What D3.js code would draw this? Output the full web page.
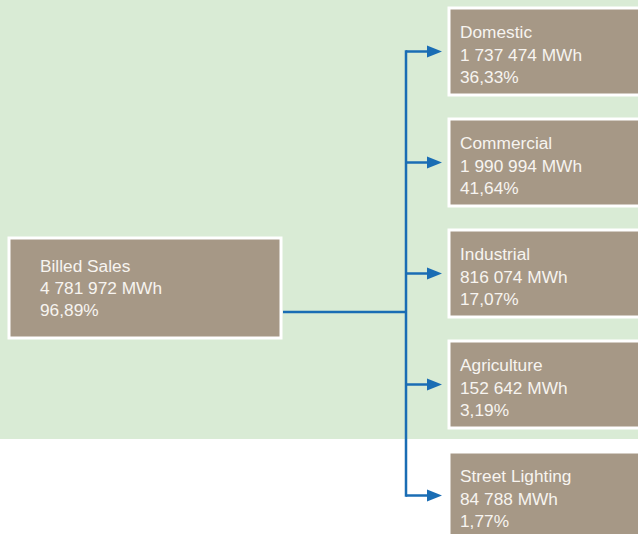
<!DOCTYPE html>
<html>
<head>
<meta charset="utf-8">
<script src="https://cdn.jsdelivr.net/npm/d3@7"></script>
<style>
  html, body { margin: 0; padding: 0; background: #ffffff; }
  svg { display: block; }
  text { font-family: "Liberation Sans", Arial, Helvetica, sans-serif; }
</style>
</head>
<body>
<div id="chart"></div>
<script>
// ---- data ----
const sourceLabel = "Billed Sales";
const sourceValue = "4 781 972 MWh";
const sourceShare = "96,89%";

const categories = ["Domestic", "Commercial", "Industrial", "Agriculture", "Street Lighting"];
const values = ["1 737 474 MWh", "1 990 994 MWh", "816 074 MWh", "152 642 MWh", "84 788 MWh"];
const shares = ["36,33%", "41,64%", "17,07%", "3,19%", "1,77%"];

// ---- layout ----
const W = 638, H = 534;
const boxFill = "#a69886";
const green = "#d9ebd5";
const blue = "#1a6db4";
const textColor = "#f7f4f0";
const fontSize = 17.3;

const svg = d3.select("#chart").append("svg")
  .attr("width", W).attr("height", H);

svg.append("rect").attr("x", 0).attr("y", 0).attr("width", W).attr("height", 439)
  .attr("fill", green);

const y = d3.scaleBand().domain(categories).range([8, 539]).paddingInner(24 / 111).paddingOuter(0);

const targetX = 449;
const busX = 406;
const arrowTipX = 442;
const arrowLen = 15, arrowHalf = 6;

// source box
const src = { x: 9, y: 238, w: 272, h: 100 };
svg.append("rect").attr("x", src.x).attr("y", src.y).attr("width", src.w).attr("height", src.h)
  .attr("fill", boxFill).attr("stroke", "#ffffff").attr("stroke-width", 3);
const srcText = svg.append("text").attr("fill", textColor).attr("font-size", fontSize);
[sourceLabel, sourceValue, sourceShare].forEach((t, i) => {
  srcText.append("tspan").attr("x", 40).attr("y", src.y + 34 + i * 22).text(t);
});

// target boxes
const g = svg.selectAll("g.target").data(categories).join("g").attr("class", "target");
g.append("rect")
  .attr("x", targetX).attr("y", d => y(d))
  .attr("width", W - targetX + 10).attr("height", y.bandwidth())
  .attr("fill", boxFill).attr("stroke", "#ffffff").attr("stroke-width", 3);
g.each(function(d, i) {
  const t = d3.select(this).append("text").attr("fill", textColor).attr("font-size", fontSize);
  [d, values[i], shares[i]].forEach((s, j) => {
    t.append("tspan").attr("x", 460).attr("y", y(d) + 30 + j * 22.5).text(s);
  });
});

// connectors
const srcY = 312;
const centers = categories.map(d => y(d) + y.bandwidth() / 2);
svg.append("line").attr("x1", src.x + src.w + 2).attr("x2", busX).attr("y1", srcY).attr("y2", srcY)
  .attr("stroke", blue).attr("stroke-width", 2.5);
svg.append("line").attr("x1", busX).attr("x2", busX)
  .attr("y1", d3.min(centers) - 1.25).attr("y2", d3.max(centers) + 1.25)
  .attr("stroke", blue).attr("stroke-width", 2.5);
svg.selectAll("line.arrow").data(centers).join("line").attr("class", "arrow")
  .attr("x1", busX).attr("x2", arrowTipX - arrowLen + 1).attr("y1", d => d).attr("y2", d => d)
  .attr("stroke", blue).attr("stroke-width", 2.5);
svg.selectAll("path.head").data(centers).join("path").attr("class", "head")
  .attr("d", d => `M${arrowTipX},${d} L${arrowTipX - arrowLen},${d - arrowHalf} L${arrowTipX - arrowLen},${d + arrowHalf} Z`)
  .attr("fill", blue);
</script>
</body>
</html>
